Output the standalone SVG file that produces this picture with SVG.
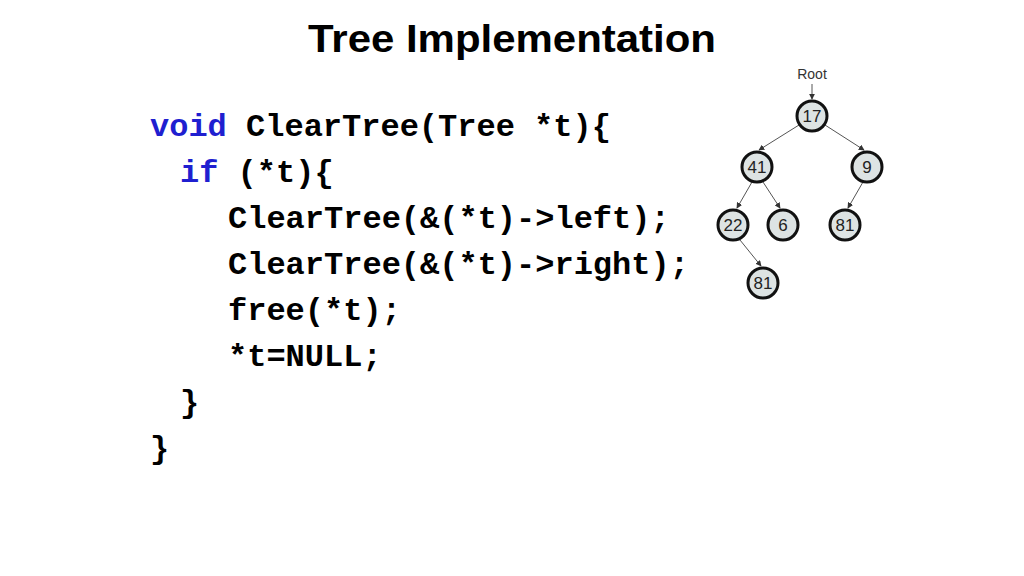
<svg xmlns="http://www.w3.org/2000/svg" width="1024" height="576" viewBox="0 0 1024 576">
<style>
.code{font-family:"Liberation Mono",monospace;font-weight:bold;font-size:32px;fill:#000}
.kw{fill:#1f1fd0}
.n circle{fill:#dde3e3;stroke:#111;stroke-width:3}
.n text{font-family:"Liberation Sans",sans-serif;font-size:17px;text-anchor:middle;fill:#222}
.e line{stroke:#555;stroke-width:1;marker-end:url(#a)}
</style>
<defs><marker id="a" viewBox="0 0 8 8" refX="7" refY="4" markerWidth="6" markerHeight="6" orient="auto"><path d="M0,0L8,4L0,8z" fill="#333"/></marker></defs>
<rect width="1024" height="576" fill="#fff"/>
<text x="512" y="52" text-anchor="middle" font-family="Liberation Sans,sans-serif" font-weight="bold" font-size="38" textLength="408" lengthAdjust="spacingAndGlyphs">Tree Implementation</text>
<g id="code">
<text class="code" x="150" y="136"><tspan class="kw">void</tspan> ClearTree(Tree *t){</text>
<text class="code" x="180" y="182"><tspan class="kw">if</tspan> (*t){</text>
<text class="code" x="228" y="228">ClearTree(&amp;(*t)-&gt;left);</text>
<text class="code" x="228" y="274">ClearTree(&amp;(*t)-&gt;right);</text>
<text class="code" x="228" y="320">free(*t);</text>
<text class="code" x="228" y="366">*t=NULL;</text>
<text class="code" x="180" y="412">}</text>
<text class="code" x="150" y="458">}</text>
</g>
<g class="e" id="connectors">
<line x1="812" y1="84" x2="812" y2="99"/>
<line x1="799" y1="125" x2="759" y2="150"/>
<line x1="825" y1="125" x2="864" y2="150"/>
<line x1="752" y1="182" x2="737" y2="208"/>
<line x1="763" y1="182" x2="780" y2="208"/>
<line x1="863" y1="182" x2="848" y2="208"/>
<line x1="740" y1="240" x2="761" y2="266"/>
</g>
<text x="812" y="79" text-anchor="middle" font-family="Liberation Sans,sans-serif" font-size="14" fill="#333">Root</text>
<g class="n" id="n17"><circle cx="812" cy="116" r="15"/><text x="812" y="122">17</text></g>
<g class="n" id="n41"><circle cx="757" cy="167" r="15"/><text x="757" y="173">41</text></g>
<g class="n" id="n9"><circle cx="867" cy="167" r="15"/><text x="867" y="173">9</text></g>
<g class="n" id="n22"><circle cx="733" cy="225" r="15"/><text x="733" y="231">22</text></g>
<g class="n" id="n6"><circle cx="783" cy="225" r="15"/><text x="783" y="231">6</text></g>
<g class="n" id="n81a"><circle cx="845" cy="225" r="15"/><text x="845" y="231">81</text></g>
<g class="n" id="n81b"><circle cx="763" cy="283" r="15"/><text x="763" y="289">81</text></g>
</svg>
